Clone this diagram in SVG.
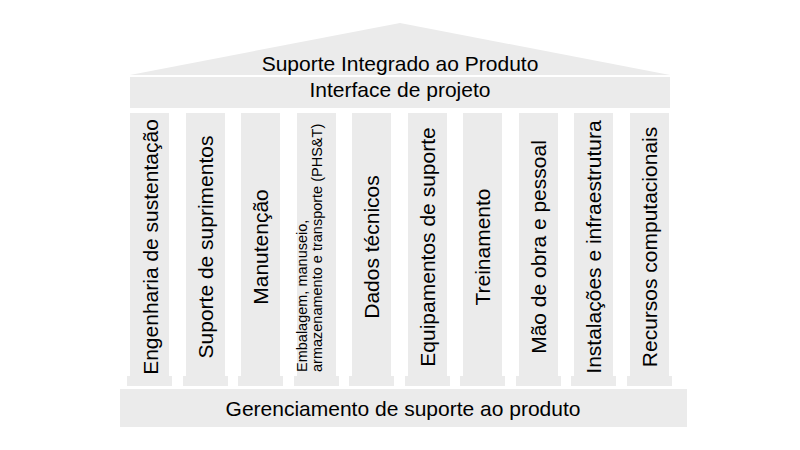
<svg xmlns="http://www.w3.org/2000/svg" width="800" height="450" viewBox="0 0 800 450">
<style>
.f{fill:#ebebeb;stroke:none}
.t{font-family:"Liberation Sans",Arial,sans-serif;font-size:21px;fill:#000;text-anchor:middle}
.v{font-family:"Liberation Sans",Arial,sans-serif;font-size:21px;fill:#000;text-anchor:middle;dominant-baseline:central}
.s{font-family:"Liberation Sans",Arial,sans-serif;font-size:14.5px;fill:#000;text-anchor:start}
</style>
<rect width="800" height="450" fill="#fff"/>
<g id="roof">
<polygon class="f" points="130,75 400,23 670,75"/>
<text class="t" x="400" y="71">Suporte Integrado ao Produto</text>
</g>
<g id="interface">
<rect class="f" x="130" y="77" width="540" height="31"/>
<text class="t" x="400" y="97">Interface de projeto</text>
</g>
<g id="col1"><rect class="f" x="130" y="113" width="39" height="263"/><rect class="f" x="127" y="376" width="45" height="10"/>
<text class="v" transform="translate(150,247) rotate(-90)">Engenharia de sustentação</text></g>
<g id="col2"><rect class="f" x="186" y="113" width="39" height="263"/><rect class="f" x="183" y="376" width="45" height="10"/>
<text class="v" transform="translate(205.5,247) rotate(-90)">Suporte de suprimentos</text></g>
<g id="col3"><rect class="f" x="241" y="113" width="39" height="263"/><rect class="f" x="238" y="376" width="45" height="10"/>
<text class="v" transform="translate(260.5,247) rotate(-90)">Manutenção</text></g>
<g id="col4"><rect class="f" x="297" y="113" width="39" height="263"/><rect class="f" x="294" y="376" width="45" height="10"/>
<text class="s" transform="translate(307,372) rotate(-90)">Embalagem, manuseio,</text>
<text class="s" transform="translate(322,372) rotate(-90)">armazenamento e transporte (PHS&amp;T)</text></g>
<g id="col5"><rect class="f" x="352" y="113" width="39" height="263"/><rect class="f" x="349" y="376" width="45" height="10"/>
<text class="v" transform="translate(371.5,247) rotate(-90)">Dados técnicos</text></g>
<g id="col6"><rect class="f" x="408" y="113" width="39" height="263"/><rect class="f" x="405" y="376" width="45" height="10"/>
<text class="v" transform="translate(427.5,247) rotate(-90)">Equipamentos de suporte</text></g>
<g id="col7"><rect class="f" x="463" y="113" width="39" height="263"/><rect class="f" x="460" y="376" width="45" height="10"/>
<text class="v" transform="translate(482.5,247) rotate(-90)">Treinamento</text></g>
<g id="col8"><rect class="f" x="519" y="113" width="39" height="263"/><rect class="f" x="516" y="376" width="45" height="10"/>
<text class="v" transform="translate(538.5,247) rotate(-90)">Mão de obra e pessoal</text></g>
<g id="col9"><rect class="f" x="574" y="113" width="39" height="263"/><rect class="f" x="571" y="376" width="45" height="10"/>
<text class="v" transform="translate(593.5,247) rotate(-90)">Instalações e infraestrutura</text></g>
<g id="col10"><rect class="f" x="630" y="113" width="39" height="263"/><rect class="f" x="627" y="376" width="45" height="10"/>
<text class="v" transform="translate(649.5,247) rotate(-90)">Recursos computacionais</text></g>
<g id="base">
<rect class="f" x="120" y="389" width="567" height="38"/>
<text class="t" x="403" y="416">Gerenciamento de suporte ao produto</text>
</g>
<g id="connectors"/>
</svg>
